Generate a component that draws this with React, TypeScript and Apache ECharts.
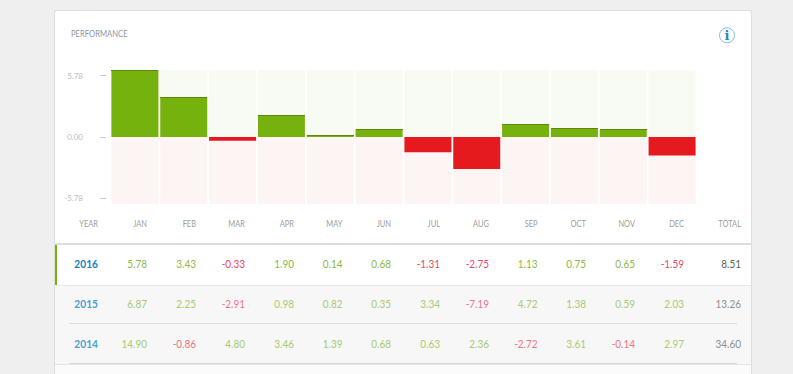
import React, { useEffect, useRef } from "react";
import * as echarts from "echarts";

const months = ["JAN", "FEB", "MAR", "APR", "MAY", "JUN", "JUL", "AUG", "SEP", "OCT", "NOV", "DEC"];
const values2016 = ["5.78", "3.43", "-0.33", "1.90", "0.14", "0.68", "-1.31", "-2.75", "1.13", "0.75", "0.65", "-1.59"];
const values2015 = ["6.87", "2.25", "-2.91", "0.98", "0.82", "0.35", "3.34", "-7.19", "4.72", "1.38", "0.59", "2.03"];
const values2014 = ["14.90", "-0.86", "4.80", "3.46", "1.39", "0.68", "0.63", "2.36", "-2.72", "3.61", "-0.14", "2.97"];
const years = ["2016", "2015", "2014"];
const totals = ["8.51", "13.26", "34.60"];
const axisMax = 5.78;
const labelScaleMax = 6.3;
const axisTicks = [-5.78, 0, 5.78];

const FONT = "Lato, 'Noto Sans', sans-serif";
const monthRight = [147, 196, 245, 294, 342.5, 391, 440, 489, 537.5, 586, 635, 684];
const rowY = [263, 303, 343];

function txt(text: string, x: number, y: number, fill: string, fontSize = 12, fontWeight: any = 400, align = "right", scaleX = 0.83) {
  return {
    type: "text",
    z: 5,
    x,
    y,
    scaleX,
    style: { text, x: 0, y: 0, fill, fontSize, fontWeight, fontFamily: FONT, textAlign: align, textVerticalAlign: "middle" },
  };
}
function box(x: number, y: number, width: number, height: number, fill: string, z = 1, r = 0) {
  return { type: "rect", z, shape: { x, y, width, height, r }, style: { fill } };
}

export default function App() {
  const ref = useRef<HTMLDivElement>(null);
  useEffect(() => {
    document.body.style.margin = "0";
    const chart = echarts.init(ref.current!, undefined, { renderer: "svg" });
    const nums = values2016.map(Number);
    const elements: any[] = [
      box(54, 10, 698, 400, "#dedede", 0, 2),
      box(55, 11, 696, 400, "#ffffff", 1, 2),
      box(55, 243, 696, 2, "#dcdcdc", 2),
      box(56, 285, 695, 1, "#e8e8e8", 2),
      box(55, 286, 696, 78, "#f7f7f7", 2),
      box(69, 323, 668, 1, "#dcdcdc", 3),
      box(69, 363, 668, 1, "#d8d8d8", 3),
      box(55, 364, 696, 1, "#e4e4e4", 3),
      box(55, 365, 696, 12, "#fbfbfb", 3),
      box(55, 245, 2, 40, "#76b20e", 3),
      box(751, 245, 1, 41, "#dddddd", 3),
      txt("PERFORMANCE", 71, 34, "#8d95a0", 9, 400, "left", 0.85),
      {
        type: "circle",
        z: 5,
        shape: { cx: 727, cy: 35.3, r: 7.5 },
        style: { fill: "#ffffff", stroke: "#7fbde3", lineWidth: 1 },
      },
      {
        type: "text",
        z: 6,
        style: {
          text: "i",
          x: 727,
          y: 35.5,
          fill: "#1f88c9",
          fontSize: 13,
          fontWeight: 700,
          fontFamily: "'DejaVu Serif', serif",
          textAlign: "center",
          textVerticalAlign: "middle",
        },
      },
      txt("YEAR", 98, 224, "#9c9c9c", 9),
      txt("TOTAL", 741, 224, "#9c9c9c", 9),
    ];
    months.forEach((m, i) => elements.push(txt(m, monthRight[i], 224, "#9c9c9c", 9)));
    [values2016, values2015, values2014].forEach((row, r) => {
      elements.push(txt(years[r], 98, rowY[r], r === 0 ? "#1a7fbf" : "#4a9fd0", 12, 700, "right", 0.85));
      row.forEach((v, i) => {
        const neg = v.startsWith("-");
        const fill = r === 0 ? (neg ? "#e8485c" : "#8ab84a") : neg ? "#ee7484" : "#a6cb70";
        elements.push(txt(v, monthRight[i], rowY[r], fill, 12));
      });
      elements.push(txt(totals[r], 741, rowY[r], r === 0 ? "#5e5e5e" : "#8f8f8f", 12, 400));
    });

    chart.setOption({
      animation: false,
      backgroundColor: "#efefef",
      grid: { left: 110.5, top: 70, width: 586, height: 134 },
      xAxis: { type: "category", data: months, show: false },
      yAxis: [
        { type: "value", min: -axisMax, max: axisMax, show: false },
        {
          type: "value",
          show: true,
          min: -labelScaleMax,
          max: labelScaleMax,
          position: "left",
          offset: 4.5,
          z: 6,
          splitLine: { show: false },
          axisLine: { show: false },
          axisTick: { show: true, length: 6, customValues: axisTicks, lineStyle: { color: "#c8c8c8" } },
          axisLabel: {
            show: true,
            customValues: axisTicks,
            margin: 23,
            color: "#bcbcbc",
            fontSize: 8,
            fontFamily: FONT,
            formatter: (v: number) => v.toFixed(2),
          },
        },
      ],
      graphic: { elements },
      series: [
        {
          type: "bar",
          barWidth: 47,
          barGap: "-100%",
          silent: true,
          data: months.map(() => axisMax),
          itemStyle: { color: "#f8faf4" },
          z: 2,
        },
        {
          type: "bar",
          barWidth: 47,
          barGap: "-100%",
          silent: true,
          data: months.map(() => -axisMax),
          itemStyle: { color: "#fdf4f4" },
          z: 2,
        },
        {
          type: "bar",
          barWidth: 47,
          barGap: "-100%",
          data: nums.map((v) => ({ value: v, itemStyle: { color: v >= 0 ? "#76b20e" : "#e41a1f" } })),
          z: 3,
        },
        {
          type: "custom",
          z: 4,
          silent: true,
          data: nums.map((v, i) => [i, v]).filter((d) => d[1] > 0),
          encode: { x: 0, y: 1 },
          renderItem: (_p: any, api: any) => {
            const c = api.coord([api.value(0), api.value(1)]);
            return {
              type: "rect",
              shape: { x: Math.round(c[0] - 23.5), y: Math.round(c[1]), width: 47, height: 1 },
              style: { fill: "#5c8a08" },
            };
          },
        },
        {
          type: "line",
          yAxisIndex: 1,
          silent: true,
          showSymbol: false,
          lineStyle: { opacity: 0 },
          data: months.map(() => 0),
        },
      ],
    });
    return () => chart.dispose();
  }, []);
  return <div ref={ref} style={{ width: 793, height: 374 }} />;
}
